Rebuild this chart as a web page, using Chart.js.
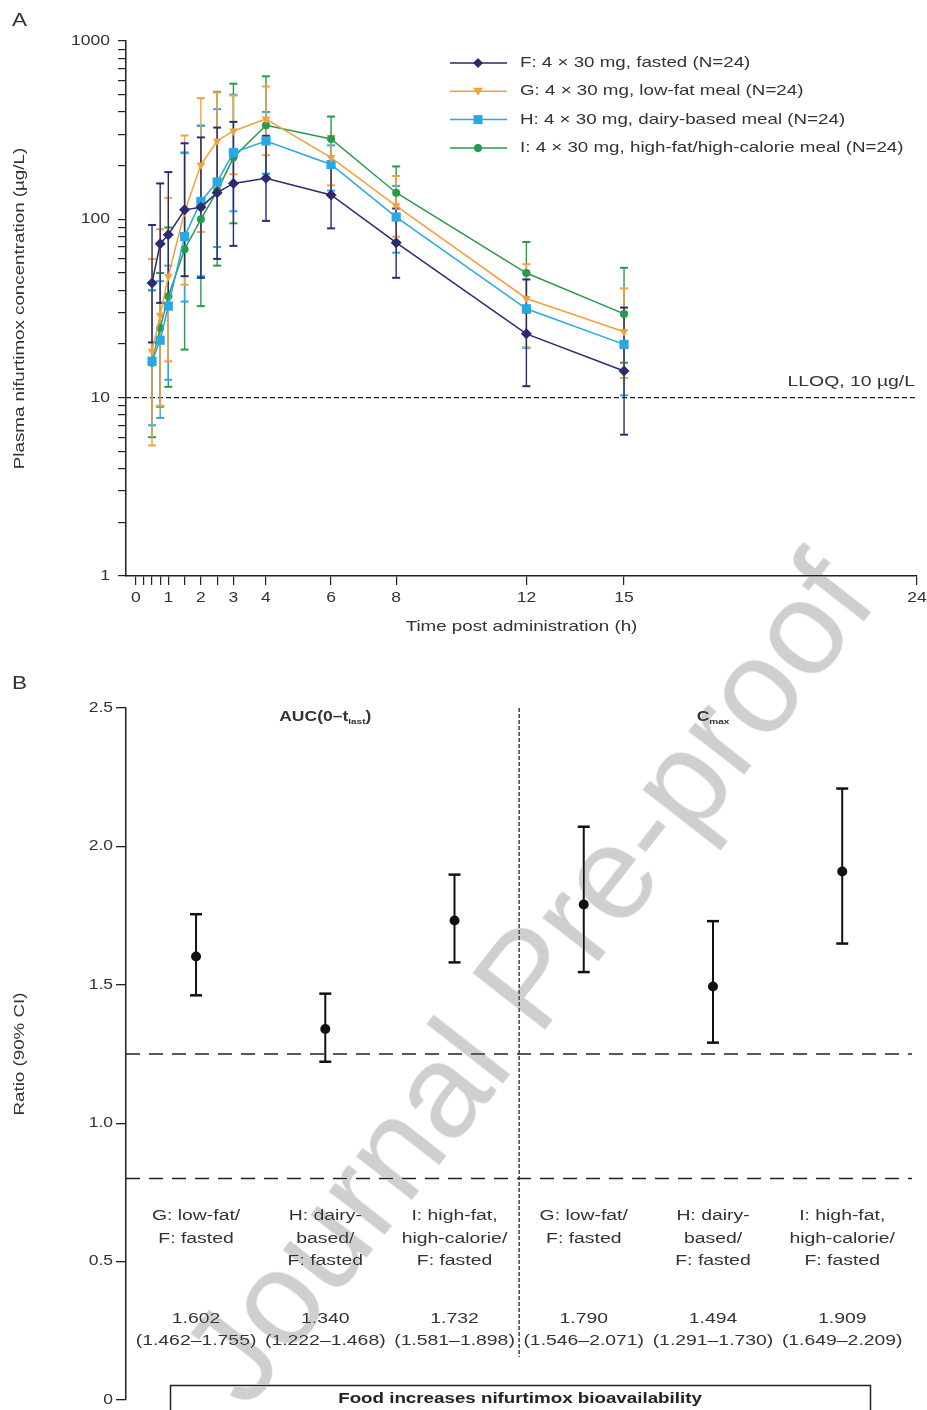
<!DOCTYPE html>
<html>
<head>
<meta charset="utf-8">
<script src="https://cdn.jsdelivr.net/npm/chart.js@4.4.1/dist/chart.umd.min.js"></script>
<style>
  body { margin: 0; background: #fff; }
  #chartA { position: absolute; left: 0; top: 0; }
  #chartB { position: absolute; left: 0; top: 650px; }
  #mark {
    position: absolute; left: 527px; top: 978px;
    transform: translate(-50%, -50%) rotate(-52deg);
    font: 133px "Liberation Sans", Arial, sans-serif; color: #cfcfcf;
    white-space: nowrap; pointer-events: none; mix-blend-mode: darken;
  }
</style>
</head>
<body>
<canvas id="chartA" width="927" height="650"></canvas>
<canvas id="chartB" width="927" height="760"></canvas>
<div id="mark">Journal Pre-proof</div>
<script>
// ---- panel A: concentration-time profiles ----
const times = [0.5, 0.75, 1, 1.5, 2, 2.5, 3, 4, 6, 8, 12, 15];

const fMean = [44, 73, 82, 113, 117, 141, 159, 170, 137, 74, 22.8, 14.1];
const fHi = [93, 159, 184, 267, 288, 327, 352, 294, 205, 115, 46, 32];
const fLo = [20.4, 34, 37, 48, 47, 60, 71, 98, 89, 47, 11.6, 6.2];

const gMean = [18.2, 29, 48, 110, 202, 275, 313, 365, 222, 119, 36, 23.4];
const gHi = [60, 88, 132, 295, 478, 515, 495, 556, 294, 175, 56, 41];
const gLo = [5.4, 9, 16, 43, 85, 150, 179, 229, 155, 80, 19.2, 12.9];

const hMean = [16, 21, 32.6, 80, 126, 162, 237, 275, 203, 103, 31.5, 19.9];
const hHi = [40, 45, 55, 235, 335, 415, 500, 400, 260, 154, 50, 30];
const hLo = [7, 7.7, 12.6, 34.6, 48, 70, 111, 180, 145, 65, 19, 10.3];

const iMean = [15.7, 24.6, 37, 68, 100, 144, 222, 337, 282, 141, 50, 29.5];
const iHi = [40, 50, 90, 237, 335, 519, 576, 634, 377, 198, 74.6, 53.5];
const iLo = [6, 8.9, 11.5, 18.6, 32.6, 55, 95, 180, 210, 100, 30, 15.7];

const seriesNames = [
  'F: 4 × 30 mg, fasted (N=24)',
  'G: 4 × 30 mg, low-fat meal (N=24)',
  'H: 4 × 30 mg, dairy-based meal (N=24)',
  'I: 4 × 30 mg, high-fat/high-calorie meal (N=24)'
];

const xTicksA = [0, 0.25, 0.5, 0.75, 1, 1.5, 2, 2.5, 3, 4, 6, 8, 12, 15, 24];
const xLabelsA = [0, 1, 2, 3, 4, 6, 8, 12, 15, 24];
const yTicksA = [1, 2, 3, 4, 5, 6, 7, 8, 9,
  10, 20, 30, 40, 50, 60, 70, 80, 90,
  100, 200, 300, 400, 500, 600, 700, 800, 900, 1000];
const yLabelsA = [1, 10, 100, 1000];
const lloq = 10;

// ---- panel B: geometric mean ratios ----
const comparisons = [
  ['G: low-fat/', 'F: fasted'],
  ['H: dairy-', 'based/', 'F: fasted'],
  ['I: high-fat,', 'high-calorie/', 'F: fasted'],
  ['G: low-fat/', 'F: fasted'],
  ['H: dairy-', 'based/', 'F: fasted'],
  ['I: high-fat,', 'high-calorie/', 'F: fasted']
];
const ratio = [1.602, 1.340, 1.732, 1.790, 1.494, 1.909];
const ciLo = [1.462, 1.222, 1.581, 1.546, 1.291, 1.649];
const ciHi = [1.755, 1.468, 1.898, 2.071, 1.730, 2.209];
const yTicksB = [0, 0.5, 1, 1.5, 2, 2.5];
const yLabelsB = ['0', '0.5', '1.0', '1.5', '2.0', '2.5'];
const limitsB = [0.8, 1.25];

const FONT = '"Liberation Sans", Arial, sans-serif';
const SX = 1.25; // the figure's lettering is wide
const TXT = '#333';

function wideText(ctx, text, x, y, o = {}) {
  ctx.save();
  ctx.translate(x, y);
  if (o.rotate) ctx.rotate(o.rotate);
  ctx.scale(SX, 1);
  ctx.font = (o.weight || 'normal') + ' ' + (o.size || 15) + 'px ' + FONT;
  ctx.fillStyle = o.color || TXT;
  ctx.textAlign = o.align || 'left';
  ctx.textBaseline = o.baseline || 'middle';
  ctx.fillText(text, 0, 0);
  ctx.restore();
}

function marker(ctx, style, x, y, r, color) {
  ctx.fillStyle = color;
  ctx.beginPath();
  if (style === 'rectRot') {
    ctx.moveTo(x, y - r); ctx.lineTo(x + r, y); ctx.lineTo(x, y + r); ctx.lineTo(x - r, y);
  } else if (style === 'triangle') {
    ctx.moveTo(x - r, y - r * 0.7); ctx.lineTo(x + r, y - r * 0.7); ctx.lineTo(x, y + r * 0.9);
  } else if (style === 'rect') {
    ctx.rect(x - r, y - r, 2 * r, 2 * r);
  } else {
    ctx.arc(x, y, r, 0, Math.PI * 2);
  }
  ctx.closePath();
  ctx.fill();
}

function seg(ctx, x1, y1, x2, y2) {
  ctx.beginPath(); ctx.moveTo(x1, y1); ctx.lineTo(x2, y2); ctx.stroke();
}

function series(label, mean, lo, hi, color, style, radius, rotation) {
  return {
    label,
    data: times.map((t, i) => ({ x: t, y: mean[i] })),
    lo, hi,
    borderColor: color, backgroundColor: color,
    pointStyle: style, pointRadius: radius, pointRotation: rotation,
    pointBorderWidth: 0, borderWidth: 1.5, tension: 0
  };
}

const legendStyles = [
  ['rectRot', 5], ['triangle', 5], ['rect', 4.5], ['circle', 4]
];

const panelA = {
  id: 'panelA',
  beforeDatasetsDraw(chart) {
    const { ctx, chartArea: a, scales: { x, y } } = chart;
    ctx.save();
    const ly = y.getPixelForValue(lloq);
    ctx.strokeStyle = '#222'; ctx.lineWidth = 1.3; ctx.setLineDash([5, 3]);
    seg(ctx, a.left, ly, a.right, ly);
    ctx.setLineDash([]);
    for (let d = chart.data.datasets.length - 1; d >= 0; d--) {
      const ds = chart.data.datasets[d];
      ctx.strokeStyle = ds.borderColor;
      ds.data.forEach((p, i) => {
        const px = x.getPixelForValue(p.x);
        const top = y.getPixelForValue(ds.hi[i]);
        const bot = y.getPixelForValue(ds.lo[i]);
        ctx.lineWidth = 1.4;
        seg(ctx, px, top, px, bot);
        ctx.lineWidth = 2;
        seg(ctx, px - 4, top, px + 4, top);
        seg(ctx, px - 4, bot, px + 4, bot);
      });
    }
    ctx.restore();
  },
  afterDraw(chart) {
    const { ctx, chartArea: a, scales: { x, y } } = chart;
    yLabelsA.forEach(v => wideText(ctx, String(v), a.left - 16, y.getPixelForValue(v), { size: 14, align: 'right' }));
    xLabelsA.forEach(v => wideText(ctx, String(v), x.getPixelForValue(v), a.bottom + 22, { size: 14, align: 'center' }));
    wideText(ctx, 'Time post administration (h)', (a.left + a.right) / 2, 627, { align: 'center' });
    wideText(ctx, 'Plasma nifurtimox concentration (µg/L)', 20, (a.top + a.bottom) / 2,
      { align: 'center', rotate: -Math.PI / 2 });
    wideText(ctx, 'LLOQ, 10 µg/L', a.right - 2, y.getPixelForValue(lloq) - 16, { size: 15.5, align: 'right' });
    wideText(ctx, 'A', 12, 21, { size: 18 });
    // legend
    chart.data.datasets.forEach((ds, i) => {
      const ry = 63 + i * 28.3;
      ctx.save();
      ctx.strokeStyle = ds.borderColor; ctx.lineWidth = 1.5;
      seg(ctx, 450, ry, 507, ry);
      ctx.restore();
      marker(ctx, legendStyles[i][0], 478, ry, legendStyles[i][1], ds.borderColor);
      wideText(ctx, seriesNames[i], 520, ry, { size: 15 });
    });
  }
};

new Chart(document.getElementById('chartA'), {
  type: 'line',
  data: {
    datasets: [
      series(seriesNames[0], fMean, fLo, fHi, '#2d2a6e', 'rectRot', 5.5, 0),
      series(seriesNames[1], gMean, gLo, gHi, '#f5a03a', 'triangle', 5, 180),
      series(seriesNames[2], hMean, hLo, hHi, '#27a9e1', 'rect', 6.5, 0),
      series(seriesNames[3], iMean, iLo, iHi, '#279b4c', 'circle', 4, 0)
    ]
  },
  options: {
    responsive: false,
    animation: false,
    layout: { padding: { left: 0, top: 41, right: 10, bottom: 0 } },
    plugins: { legend: { display: false }, tooltip: { enabled: false } },
    scales: {
      x: {
        type: 'linear', min: -0.3, max: 24,
        afterBuildTicks: s => { s.ticks = xTicksA.map(v => ({ value: v })); },
        afterFit: s => { s.height = 74; },
        ticks: { display: false, autoSkip: false },
        grid: { drawOnChartArea: false, drawTicks: true, tickLength: 9, color: '#222', lineWidth: 1.2 },
        border: { display: true, color: '#222', width: 1.5 }
      },
      y: {
        type: 'logarithmic', min: 1, max: 1000,
        afterBuildTicks: s => { s.ticks = yTicksA.map(v => ({ value: v })); },
        afterFit: s => { s.width = 126; },
        ticks: { display: false, autoSkip: false },
        grid: { drawOnChartArea: false, drawTicks: true, tickLength: 8, color: '#222', lineWidth: 1.2 },
        border: { display: true, color: '#222', width: 1.5 }
      }
    }
  },
  plugins: [panelA]
});

const panelB = {
  id: 'panelB',
  beforeDatasetsDraw(chart) {
    const { ctx, chartArea: a, scales: { x, y } } = chart;
    ctx.save();
    ctx.strokeStyle = '#222';
    ctx.lineWidth = 1.5; ctx.setLineDash([14, 9]);
    limitsB.forEach(v => { const py = y.getPixelForValue(v); seg(ctx, a.left, py, a.right, py); });
    ctx.lineWidth = 1.3; ctx.setLineDash([4, 2]);
    const dx = x.getPixelForValue(3.5);
    seg(ctx, dx, y.getPixelForValue(2.5), dx, y.getPixelForValue(0.155));
    ctx.setLineDash([]);
    ctx.strokeStyle = '#111';
    ratio.forEach((r, i) => {
      const px = x.getPixelForValue(i + 1);
      const top = y.getPixelForValue(ciHi[i]);
      const bot = y.getPixelForValue(ciLo[i]);
      ctx.lineWidth = 2;
      seg(ctx, px, top, px, bot);
      ctx.lineWidth = 2.5;
      seg(ctx, px - 6, top, px + 6, top);
      seg(ctx, px - 6, bot, px + 6, bot);
    });
    ctx.restore();
  },
  afterDraw(chart) {
    const { ctx, chartArea: a, scales: { x, y } } = chart;
    yTicksB.forEach((v, i) => wideText(ctx, yLabelsB[i], a.left - 13, y.getPixelForValue(v), { size: 14, align: 'right' }));
    wideText(ctx, 'Ratio (90% CI)', 20, (a.top + a.bottom) / 2, { align: 'center', rotate: -Math.PI / 2 });
    wideText(ctx, 'B', 12, 34, { size: 18 });
    subLabel(ctx, 'AUC(0–t', 'last', ')', x.getPixelForValue(2), 66);
    subLabel(ctx, 'C', 'max', '', x.getPixelForValue(5), 66);
    comparisons.forEach((lines, i) => {
      const px = x.getPixelForValue(i + 1);
      lines.forEach((t, k) => wideText(ctx, t, px, 566 + k * 22.5, { size: 15.5, align: 'center' }));
      wideText(ctx, ratio[i].toFixed(3), px, 669, { size: 15.5, align: 'center' });
      wideText(ctx, '(' + ciLo[i].toFixed(3) + '–' + ciHi[i].toFixed(3) + ')', px, 691, { size: 15.5, align: 'center' });
    });
    ctx.save();
    ctx.strokeStyle = '#222'; ctx.lineWidth = 1.5;
    ctx.strokeRect(170.5, 735.5, 700, 40);
    ctx.restore();
    wideText(ctx, 'Food increases nifurtimox bioavailability', 520, 749, { size: 15, weight: 'bold', align: 'center', color: '#222' });
  }
};

function subLabel(ctx, main, sub, tail, cx, cy) {
  ctx.save();
  ctx.translate(cx, cy);
  ctx.scale(SX, 1);
  const f1 = 'bold 14px ' + FONT, f2 = 'bold 8px ' + FONT;
  ctx.font = f1;
  const w1 = ctx.measureText(main).width, w3 = ctx.measureText(tail).width;
  ctx.font = f2;
  const w2 = ctx.measureText(sub).width;
  const x0 = -(w1 + w2 + w3) / 2;
  ctx.fillStyle = TXT; ctx.textAlign = 'left'; ctx.textBaseline = 'alphabetic';
  ctx.font = f1; ctx.fillText(main, x0, 5);
  ctx.font = f2; ctx.fillText(sub, x0 + w1, 8);
  ctx.font = f1; ctx.fillText(tail, x0 + w1 + w2, 5);
  ctx.restore();
}

new Chart(document.getElementById('chartB'), {
  type: 'scatter',
  data: {
    datasets: [{
      data: ratio.map((r, i) => ({ x: i + 1, y: r })),
      backgroundColor: '#111', borderColor: '#111',
      pointRadius: 5, pointBorderWidth: 0
    }]
  },
  options: {
    responsive: false,
    animation: false,
    layout: { padding: { left: 0, top: 58, right: 15, bottom: 10 } },
    plugins: { legend: { display: false }, tooltip: { enabled: false } },
    scales: {
      x: { type: 'linear', min: 0.458, max: 6.54, display: false },
      y: {
        type: 'linear', min: 0, max: 2.5,
        afterBuildTicks: s => { s.ticks = yTicksB.map(v => ({ value: v })); },
        afterFit: s => { s.width = 126; },
        ticks: { display: false },
        grid: { drawOnChartArea: false, drawTicks: true, tickLength: 10, color: '#222', lineWidth: 1.3 },
        border: { display: true, color: '#222', width: 1.5 }
      }
    }
  },
  plugins: [panelB]
});
</script>
</body>
</html>
